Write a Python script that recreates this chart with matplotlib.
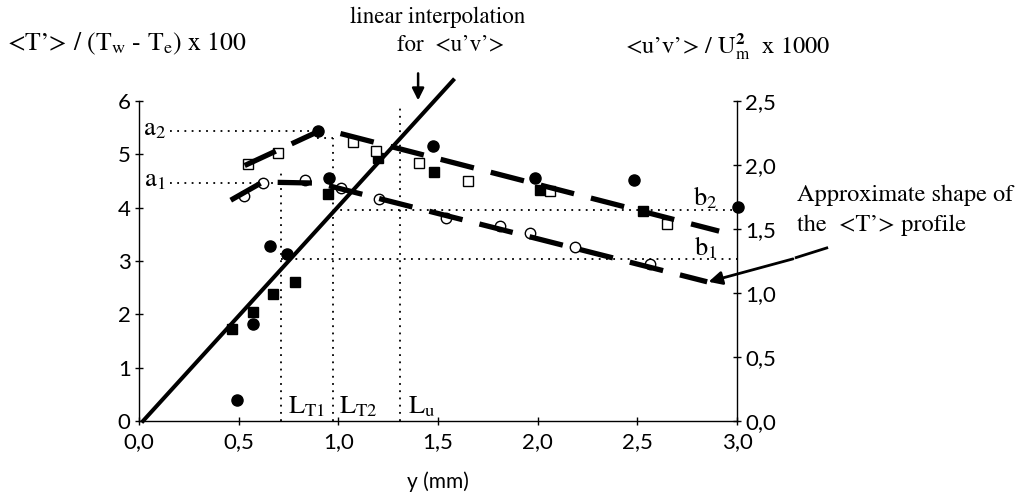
import matplotlib
matplotlib.use("Agg")
import matplotlib.pyplot as plt

plt.rcParams["mathtext.fontset"] = "stix"

# measured points (y in mm, left axis units)
fc_x = [0.49, 0.574, 0.659, 0.744, 0.897, 0.955, 1.477, 1.987, 2.485, 3.007]
fc_y = [0.39, 1.81, 3.28, 3.13, 5.43, 4.56, 5.15, 4.56, 4.51, 4.01]
fs_x = [0.465, 0.571, 0.674, 0.78, 0.95, 1.2, 1.48, 2.012, 2.53]
fs_y = [1.72, 2.05, 2.38, 2.61, 4.25, 4.94, 4.66, 4.33, 3.94]
oc_x = [0.528, 0.624, 0.833, 1.012, 1.206, 1.539, 1.811, 1.962, 2.188, 2.564]
oc_y = [4.21, 4.47, 4.51, 4.37, 4.17, 3.81, 3.65, 3.53, 3.26, 2.95]
os_x = [0.545, 0.696, 1.072, 1.19, 1.405, 1.652, 2.062, 2.648]
os_y = [4.81, 5.03, 5.23, 5.07, 4.83, 4.50, 4.31, 3.70]

# approximate <T'> profiles
up_x = [0.53, 0.9, 1.0, 2.91]
up_y = [4.79, 5.43, 5.40, 3.56]
lo_x = [0.46, 0.62, 0.9, 2.85]
lo_y = [4.14, 4.48, 4.46, 2.61]

# linear interpolation for <u'v'>
lin_x = [0.02, 1.576]
lin_y = [0.0, 6.39]

# characteristic levels / lengths
a2, a1 = 5.43, 4.47
b2, b1 = 3.95, 3.04
LT1, LT2, Lu = 0.712, 0.973, 1.31

x_ticks = [0.0, 0.5, 1.0, 1.5, 2.0, 2.5, 3.0]
x_labels = ["0,0", "0,5", "1,0", "1,5", "2,0", "2,5", "3,0"]
yl_ticks = [0, 1, 2, 3, 4, 5, 6]
yr_ticks = [0.0, 0.5, 1.0, 1.5, 2.0, 2.5]
yr_labels = ["0,0", "0,5", "1,0", "1,5", "2,0", "2,5"]

serif = "STIXGeneral"
sans = "Lato"

fig = plt.figure(figsize=(10.2, 4.98), dpi=100)
ax = fig.add_axes([0.1363, 0.1546, 0.5863, 0.6426])
ax2 = ax.twinx()

ax.set_xlim(0, 3)
ax.set_ylim(0, 6)
ax2.set_ylim(0, 2.5)

for a in (ax, ax2):
    a.spines["top"].set_visible(False)
    for s in ("left", "right", "bottom"):
        a.spines[s].set_linewidth(1.0)
ax.spines["right"].set_visible(False)
ax2.spines["left"].set_visible(False)
ax2.spines["bottom"].set_visible(False)

ax.set_xticks(x_ticks)
ax.set_xticklabels(x_labels, fontfamily=sans, fontsize=16)
ax.set_yticks(yl_ticks)
ax.set_yticklabels([str(t) for t in yl_ticks], fontfamily=sans, fontsize=16)
ax2.set_yticks(yr_ticks)
ax2.set_yticklabels(yr_labels, fontfamily=sans, fontsize=16)
ax.tick_params(axis="both", direction="inout", length=6, width=1, pad=3)
ax.tick_params(axis="x", pad=5)
ax2.tick_params(axis="y", direction="inout", length=6, width=1, pad=3)
ax.set_xlabel("y (mm)", fontfamily=sans, fontsize=15, labelpad=14)

dot = (0, (1, 3))
kw = dict(color="black", lw=1.3, ls=dot, zorder=2)
ax.plot([0.156, fc_x[4]], [a2, a2], **kw)
ax.plot([0.156, oc_x[2]], [a1, a1], **kw)
ax.plot([LT1, LT1], [0, 4.67], **kw)
ax.plot([0.893, LT2], [5.31, 5.31], **kw)
ax.plot([LT2, LT2], [0, 5.31], **kw)
ax.plot([Lu, Lu], [0, 5.95], **kw)
ax.plot([LT2, 3.0], [b2, b2], **kw)
ax.plot([LT1, 3.0], [b1, b1], **kw)

ax.plot(lin_x, lin_y, color="black", lw=2.9, clip_on=False, zorder=3)

ax.plot(fc_x, fc_y, "o", color="black", ms=8, clip_on=False, zorder=4)
ax.plot(fs_x, fs_y, "s", color="black", ms=6.5, clip_on=False, zorder=4)
ax.plot(oc_x, oc_y, "o", mfc="white", mec="black", mew=1.0, ms=7.5, clip_on=False, zorder=4)
ax.plot(os_x, os_y, "s", mfc="white", mec="black", mew=1.0, ms=6.5, clip_on=False, zorder=4)

for px, py in ((up_x, up_y), (lo_x, lo_y)):
    ax.plot(px, py, color="black", lw=3.8, dashes=(6.5, 3.3),
            solid_capstyle="butt", dash_capstyle="butt", zorder=5)

ax.text(0.08, 5.49, r"$\mathrm{a}_2$", fontsize=19, ha="center", va="center")
ax.text(0.08, 4.53, r"$\mathrm{a}_1$", fontsize=19, ha="center", va="center")
ax.text(2.84, 4.18, r"$\mathrm{b}_2$", fontsize=19, ha="center", va="center")
ax.text(2.84, 3.24, r"$\mathrm{b}_1$", fontsize=19, ha="center", va="center")
ax.text(0.84, 0.27, r"$\mathrm{L}_{\mathrm{T1}}$", fontsize=19, ha="center", va="center")
ax.text(1.10, 0.27, r"$\mathrm{L}_{\mathrm{T2}}$", fontsize=19, ha="center", va="center")
ax.text(1.42, 0.27, r"$\mathrm{L}_{\mathrm{u}}$", fontsize=19, ha="center", va="center")

# arrow to the interpolation line
ax.annotate("", xy=(1.40, 5.96), xytext=(1.40, 6.57), annotation_clip=False,
            arrowprops=dict(arrowstyle="-|>", color="black", lw=1.8, mutation_scale=18))

# arrow to the approximate profile
ax.plot([3.45, 3.297], [3.245, 3.065], color="black", lw=2, clip_on=False)
ax.annotate("", xy=(2.857, 2.61), xytext=(3.281, 3.04), annotation_clip=False,
            arrowprops=dict(arrowstyle="-|>", color="black", lw=2, mutation_scale=20,
                            shrinkA=0, shrinkB=0))

W, H = 1020, 498
fig.text(438 / W, 1 - 17 / H, "linear interpolation", family=serif, fontsize=16.5,
         ha="center", va="center")
fig.text(451 / W, 1 - 45 / H, "for  <u’v’>", family=serif, fontsize=16.5,
         ha="center", va="center")
fig.text(7 / W, 1 - 44 / H, r"<T’> / (T$_\mathrm{w}$ - T$_\mathrm{e}$) x 100", family=serif,
         fontsize=18.5, ha="left", va="center")
fig.text(625 / W, 1 - 47 / H, r"<u’v’> / U$_\mathrm{m}^\mathbf{2}$  x 1000", family=serif,
         fontsize=17.5, ha="left", va="center")
fig.text(797 / W, 1 - 195 / H, "Approximate shape of", family=serif, fontsize=17.5,
         ha="left", va="center")
fig.text(797 / W, 1 - 225 / H, "the  <T’> profile", family=serif, fontsize=17.5,
         ha="left", va="center")

fig.savefig("out.png", dpi=100)
